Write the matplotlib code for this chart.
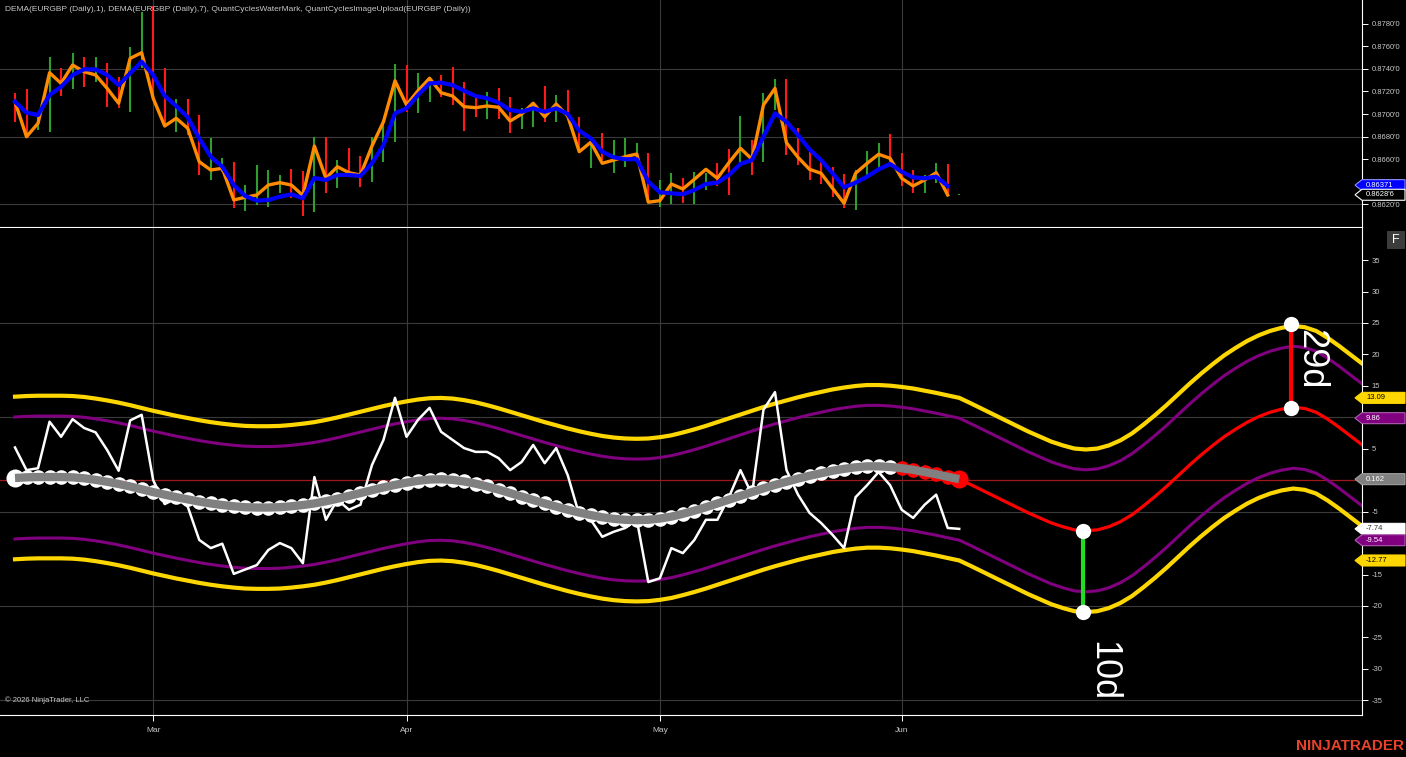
import matplotlib
matplotlib.use("Agg")
import matplotlib.pyplot as plt
from matplotlib.patches import Polygon, Rectangle
from matplotlib.transforms import IdentityTransform

plt.rcParams['font.family'] = ['Liberation Sans', 'DejaVu Sans']

# ---- price panel (EURGBP daily) ----
bar_hi = [0.87188, 0.87221, 0.87006, 0.87507, 0.87404, 0.87537, 0.87507, 0.87507, 0.87448, 0.87330,
          0.87595, 0.87902, 0.87955, 0.87404, 0.87130, 0.87130, 0.86991, 0.86785, 0.86608, 0.86578,
          0.86372, 0.86549, 0.86505, 0.86461, 0.86511, 0.86496, 0.86799, 0.86799, 0.86593, 0.86697,
          0.86629, 0.86799, 0.86947, 0.87442, 0.87433, 0.87360, 0.87330, 0.87345, 0.87413, 0.87286,
          0.87139, 0.87197, 0.87227, 0.87153, 0.87050, 0.87109, 0.87248, 0.87168, 0.87212, 0.86971,
          0.86799, 0.86835, 0.86770, 0.86785, 0.86741, 0.86658, 0.86417, 0.86481, 0.86432, 0.86490,
          0.86476, 0.86564, 0.86688, 0.86982, 0.86770, 0.87188, 0.87307, 0.87307, 0.86874, 0.86682,
          0.86578, 0.86529, 0.86470, 0.86505, 0.86676, 0.86741, 0.86823, 0.86658, 0.86505, 0.86461,
          0.86564, 0.86558, 0.86290]
bar_lo = [0.86932, 0.86799, 0.86859, 0.86844, 0.87159, 0.87218, 0.87241, 0.87286, 0.87065, 0.87050,
          0.87020, 0.87404, 0.87139, 0.86894, 0.86844, 0.86814, 0.86461, 0.86417, 0.86490, 0.86166,
          0.86145, 0.86196, 0.86181, 0.86299, 0.86255, 0.86094, 0.86136, 0.86299, 0.86343, 0.86446,
          0.86357, 0.86402, 0.86578, 0.86755, 0.87020, 0.87006, 0.87109, 0.87153, 0.87080, 0.86852,
          0.86971, 0.86953, 0.86953, 0.86835, 0.86865, 0.86888, 0.86932, 0.86932, 0.86976, 0.86682,
          0.86520, 0.86593, 0.86476, 0.86529, 0.86593, 0.86211, 0.86175, 0.86204, 0.86216, 0.86204,
          0.86328, 0.86364, 0.86284, 0.86540, 0.86461, 0.86578, 0.87035, 0.86638, 0.86549, 0.86417,
          0.86381, 0.86269, 0.86166, 0.86151, 0.86446, 0.86505, 0.86578, 0.86364, 0.86304, 0.86304,
          0.86393, 0.86299, 0.86282]
bar_up = "RRGGRGRGRRGGRRGRRGGRGGGGRRGRGRRGGGRGGRRRRGRRGGRGRRGRGGGRGGRGGRRGRGGRRRRRRGGGRRRGGRG"

close = [0.87109, 0.86799, 0.86918, 0.87365, 0.87271, 0.87433, 0.87374, 0.87345, 0.87227, 0.87095,
         0.87492, 0.87542, 0.87139, 0.86894, 0.86962, 0.86874, 0.86578, 0.86505, 0.86520, 0.86240,
         0.86264, 0.86284, 0.86372, 0.86393, 0.86372, 0.86280, 0.86717, 0.86432, 0.86534, 0.86481,
         0.86461, 0.86717, 0.86932, 0.87294, 0.87080, 0.87206, 0.87316, 0.87188, 0.87159, 0.87065,
         0.87056, 0.87071, 0.87059, 0.86938, 0.87000, 0.87095, 0.86976, 0.87088, 0.86982, 0.86667,
         0.86750, 0.86564, 0.86593, 0.86623, 0.86646, 0.86220, 0.86234, 0.86381, 0.86337, 0.86423,
         0.86511, 0.86432, 0.86570, 0.86697, 0.86600, 0.87080, 0.87227, 0.86746, 0.86617, 0.86511,
         0.86476, 0.86343, 0.86211, 0.86476, 0.86564, 0.86644, 0.86608, 0.86432, 0.86364, 0.86417,
         0.86481, 0.86284]
dema7 = [0.87109, 0.87012, 0.86991, 0.87168, 0.87241, 0.87345, 0.87395, 0.87395, 0.87345, 0.87256,
         0.87360, 0.87462, 0.87345, 0.87159, 0.87071, 0.86971, 0.86785, 0.86623, 0.86534, 0.86372,
         0.86275, 0.86234, 0.86240, 0.86269, 0.86290, 0.86255, 0.86434, 0.86417, 0.86461, 0.86461,
         0.86452, 0.86564, 0.86726, 0.87006, 0.87050, 0.87168, 0.87271, 0.87277, 0.87256, 0.87206,
         0.87159, 0.87139, 0.87100, 0.87035, 0.87020, 0.87050, 0.87020, 0.87050, 0.87000, 0.86852,
         0.86785, 0.86667, 0.86617, 0.86600, 0.86600, 0.86402, 0.86308, 0.86299, 0.86290, 0.86328,
         0.86381, 0.86393, 0.86461, 0.86558, 0.86593, 0.86799, 0.87006, 0.86932, 0.86814, 0.86688,
         0.86593, 0.86476, 0.86352, 0.86393, 0.86446, 0.86511, 0.86558, 0.86490, 0.86440, 0.86432,
         0.86446, 0.86364]

# ---- cycle panel ----
osc = [5.2, 1.6, 1.9, 9.3, 6.9, 9.7, 8.3, 7.6, 4.8, 1.5,
       9.5, 10.4, 0.0, -3.8, -2.9, -4.2, -9.5, -10.8, -10.1, -14.9,
       -14.2, -13.5, -11.1, -10.0, -10.8, -13.2, 0.5, -6.3, -3.1, -4.7,
       -3.9, 2.4, 6.4, 13.1, 6.9, 9.6, 11.5, 7.7, 6.4, 5.1,
       4.5, 4.5, 3.5, 1.6, 2.9, 5.6, 2.7, 5.1, 0.8, -5.5,
       -6.3, -9.0, -8.2, -7.6, -6.3, -16.2, -15.6, -10.8, -11.6, -9.5,
       -6.3, -6.3, -2.7, 1.6, -2.3, 11.2, 14.0, 1.6, -2.3, -5.2,
       -6.8, -8.7, -10.8, -2.7, -0.8, 1.3, -0.8, -4.7, -6.0, -3.9,
       -2.3, -7.6, -7.74]
cycle = [0.35, 0.45, 0.5, 0.5, 0.5, 0.45, 0.3, 0.05, -0.25, -0.6,
         -1.0, -1.45, -1.9, -2.3, -2.7, -3.05, -3.4, -3.7, -3.95, -4.15,
         -4.3, -4.35, -4.35, -4.3, -4.15, -3.95, -3.7, -3.35, -2.95, -2.5,
         -2.05, -1.6, -1.15, -0.75, -0.4, -0.1, 0.1, 0.15, 0.05, -0.2,
         -0.55, -1.0, -1.5, -2.05, -2.6, -3.15, -3.7, -4.2, -4.7, -5.15,
         -5.55, -5.9, -6.15, -6.3, -6.35, -6.3, -6.1, -5.8, -5.35, -4.85,
         -4.3, -3.7, -3.1, -2.5, -1.9, -1.3, -0.75, -0.25, 0.25, 0.7,
         1.1, 1.5, 1.8, 2.05, 2.2, 2.2, 2.1, 1.9, 1.65, 1.3,
         0.95, 0.55, 0.162,
         -0.7, -1.6, -2.5, -3.4, -4.3, -5.2, -6.0, -6.8, -7.4, -7.9,
         -8.05, -7.9, -7.4, -6.6, -5.5, -4.1, -2.6, -1.0, 0.7, 2.4,
         4.0, 5.5, 6.9, 8.1, 9.2, 10.1, 10.8, 11.3, 11.6, 11.4,
         10.8, 9.7, 8.4, 7.0, 5.6]
outer_band = 12.93   # yellow offset (13.09 - 0.162)
inner_band = 9.70    # purple offset (9.86 - 0.162)
last_fit = 82        # last bar of the fitted cycle
red_from = 77        # red dots start here
low_mark = (92.75, -8.05, -20.9, '10d')
high_mark = (110.8, 11.5, 24.9, '29d')

months = ['Mar', 'Apr', 'May', 'Jun']
month_bar = [12, 34, 56, 77]

W, H = 1406, 757
fig = plt.figure(figsize=(W / 100, H / 100), dpi=100, facecolor='black')
ax1 = fig.add_axes([0, (H - 227) / H, 1362 / W, 227 / H])
ax2 = fig.add_axes([0, (H - 715) / H, 1362 / W, 487 / H])
xlim = (-1.303, 116.98)
grid_c = '#3a3a3a'
txt_c = '#c8c8c8'

for ax in (ax1, ax2):
    ax.set_facecolor('black')
    ax.set_xlim(*xlim)
    for s in ('left', 'top'):
        ax.spines[s].set_visible(False)
    ax.spines['right'].set_color('white')
    ax.spines['bottom'].set_color('white')
    ax.yaxis.tick_right()
    ax.tick_params(axis='y', colors='white', labelcolor=txt_c, labelsize=5.5, length=4, width=0.7, pad=3)
    for b in month_bar:
        ax.axvline(b, color=grid_c, lw=0.8, zorder=0)

# top panel
ax1.set_ylim(0.86001, 0.88008)
for g in (0.8620, 0.8680, 0.8740):
    ax1.axhline(g, color=grid_c, lw=0.8, zorder=0)
for i in range(len(bar_hi)):
    col = '#2e9e2e' if bar_up[i] == 'G' else '#ff1a1a'
    ax1.vlines(i, bar_lo[i], bar_hi[i], color=col, lw=1.5, zorder=2)
ax1.plot(range(len(close)), close, color='#ff8c00', lw=2.4, zorder=3, solid_joinstyle='round')
ax1.plot(range(len(dema7)), dema7, color='#0000ff', lw=3.0, zorder=4, solid_joinstyle='round')
ticks1 = [0.8620, 0.8640, 0.8660, 0.8680, 0.8700, 0.8720, 0.8740, 0.8760, 0.8780]
ax1.set_yticks(ticks1)
ax1.set_yticklabels(["%.4f'0" % t for t in ticks1])
ax1.set_xticks([])
ax1.text(-0.87, 0.87925, 'DEMA(EURGBP (Daily),1), DEMA(EURGBP (Daily),7), QuantCyclesWaterMark, '
         'QuantCyclesImageUpload(EURGBP (Daily))', color=txt_c, fontsize=6.0, va='center', zorder=5)

# lower panel
ax2.set_ylim(-37.34, 40.10)
ax2.spines['top'].set_visible(False)
for g in (25, 10, -5, -20, -35):
    ax2.axhline(g, color=grid_c, lw=0.8, zorder=0)
ax2.axhline(0, color='#a01818', lw=0.9, zorder=1)

xb = list(range(len(cycle)))
up_out = [c + outer_band for c in cycle]
dn_out = [c - outer_band for c in cycle]
up_in = [c + inner_band for c in cycle]
dn_in = [c - inner_band for c in cycle]
ax2.plot(xb, up_out, color='#ffd700', lw=3.0, zorder=2)
ax2.plot(xb, dn_out, color='#ffd700', lw=3.0, zorder=2)
ax2.plot(xb, up_in, color='#800080', lw=2.2, zorder=2)
ax2.plot(xb, dn_in, color='#800080', lw=2.2, zorder=2)
ax2.plot(range(len(osc)), osc, color='white', lw=1.8, zorder=3)

ax2.plot(xb[last_fit:], cycle[last_fit:], color='#ff0000', lw=2.3, zorder=4)
ax2.plot(xb[:red_from], cycle[:red_from], 'o', color='white', ms=10.5, mew=0, zorder=4)
ax2.plot(xb[red_from:last_fit + 1], cycle[red_from:last_fit + 1], 'o', color='#ff0000', ms=10.5, mew=0, zorder=4)
ax2.plot([0], [cycle[0]], 'o', color='white', ms=13, mew=0, zorder=4)
ax2.plot([last_fit], [cycle[last_fit]], 'o', color='#ff0000', ms=13, mew=0, zorder=4)
ax2.plot(xb[:last_fit + 1], cycle[:last_fit + 1], color='#808080', lw=6, zorder=5, solid_capstyle='butt')

for (bx, y0, y1, lab), col in ((low_mark, '#22dd22'), (high_mark, '#ff0000')):
    ax2.plot([bx, bx], [y0, y1], color=col, lw=3, zorder=6)
    ax2.plot([bx, bx], [y0, y1], 'o', color='white', ms=11, mew=0, zorder=7)
ax2.text(low_mark[0] + 0.2, -25.6, low_mark[3], color='white', fontsize=26, rotation=-90,
         ha='left', va='top', zorder=7)
ax2.text(high_mark[0] + 0.2, 24.0, high_mark[3], color='white', fontsize=26, rotation=-90,
         ha='left', va='top', zorder=7)

ticks2 = [35, 30, 25, 20, 15, 5, -5, -15, -20, -25, -30, -35]
ax2.set_yticks(ticks2)
ax2.set_yticklabels([str(t) for t in ticks2])
ax2.set_xticks(month_bar)
ax2.set_xticklabels(months)
ax2.tick_params(axis='x', colors='white', labelcolor=txt_c, labelsize=6.0, length=4, width=0.7, pad=5)
ax2.text(-0.9, -35.0, '\u00a9 2026 NinjaTrader, LLC', color=txt_c, fontsize=5.5, va='center', zorder=5)

fig.canvas.draw()
ID = IdentityTransform()


def tag(ax, val, label, face, tcol, edge):
    y = ax.transData.transform((0, val))[1]
    h = 5.5
    pts = [[1355, y], [1362, y + h], [1405, y + h], [1405, y - h], [1362, y - h]]
    fig.add_artist(Polygon(pts, closed=True, transform=ID, facecolor=face, edgecolor=edge, lw=0.8, zorder=8))
    fig.text(1366, y, label, transform=ID, color=tcol, fontsize=5.5, va='center', ha='left', zorder=9)


tag(ax1, 0.86371, '0.86371', '#0000ff', 'white', '#9090ff')
tag(ax1, 0.86286, "0.8628'6", 'black', 'white', 'white')
tag(ax2, 13.09, '13.09', '#ffd700', 'black', '#ffd700')
tag(ax2, 9.86, '9.86', '#800080', 'white', '#b060b0')
tag(ax2, 0.162, '0.162', '#808080', 'white', '#a0a0a0')
tag(ax2, -7.74, '-7.74', 'white', '#333333', 'white')
tag(ax2, -9.54, '-9.54', '#800080', 'white', '#b060b0')
tag(ax2, -12.77, '-12.77', '#ffd700', 'black', '#ffd700')

fig.add_artist(Rectangle((1387, H - 249), 18, 18, transform=ID, facecolor='#3c3c3c', edgecolor='none', zorder=8))
fig.text(1396, H - 240, 'F', transform=ID, color='white', fontsize=9, ha='center', va='center', zorder=9)
fig.text(1404, H - 746, 'NINJATRADER', transform=ID, color='#e8432a', fontsize=11, fontweight='bold',
         ha='right', va='center', zorder=9)

fig.savefig('out.png', dpi=100, facecolor='black')
